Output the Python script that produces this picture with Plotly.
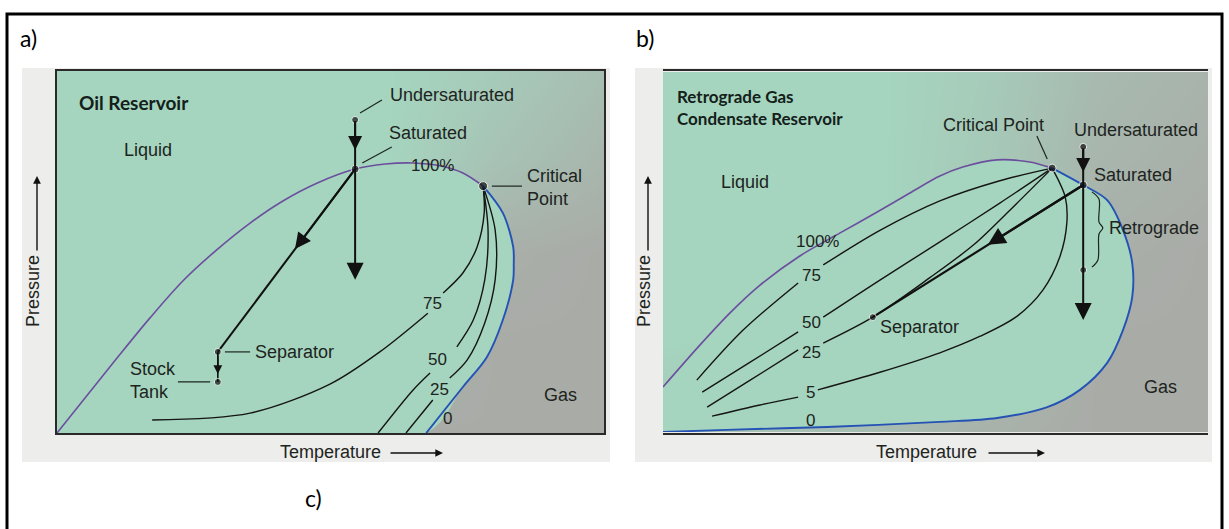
import plotly.graph_objects as go

W, H = 1229, 529

# ---------------- a) Oil reservoir ----------------
# temperature / pressure given as % of the plotted window
OIL_BUBBLE_T = [0, 10.97, 17.0, 23.0, 29.2, 35.3, 41.3, 47.5, 54.5, 60.0, 65.1, 70.0, 74.2, 77.9]
OIL_BUBBLE_P = [0, 20.7, 31.8, 42.0, 50.6, 58.0, 64.1, 69.0, 72.9, 74.3, 74.6, 73.8, 71.8, 68.2]
OIL_DEW_T = [77.9, 81.5, 83.4, 83.5, 83.4, 81.5, 78.6, 74.2, 67.5]
OIL_DEW_P = [68.2, 60.8, 51.4, 46.4, 42.3, 31.2, 21.0, 12.7, 0]
OIL_Q75_T = [77.9, 78.1, 76.8, 74.2, 70.6, None, 67.8, 59.0, 49.9, 35.3, 17.4]
OIL_Q75_P = [68.2, 60.8, 51.4, 44.2, 38.7, None, 33.1, 22.4, 13.5, 5.5, 3.6]
OIL_Q50_T = [77.9, 78.8, 78.2, 76.1, 73.1, None, 68.2, 65.1, 58.7]
OIL_Q50_P = [68.2, 56.1, 42.3, 31.2, 23.8, None, 16.6, 11.9, 0]
OIL_Q25_T = [77.9, 80.1, 80.1, 78.2, 75.0, 71.8, None, 68.7, 63.8]
OIL_Q25_P = [68.2, 56.1, 42.3, 30.4, 20.2, 15.2, None, 9.1, 0]
OIL_QUAL_LABELS = ["100%", "75", "50", "25", "0"]
OIL_QUAL_T = [68.7, 68.6, 69.5, 70.0, 71.3]
OIL_QUAL_P = [74.0, 35.9, 20.2, 11.9, 4.1]
# Undersaturated, Saturated, Critical Point, Separator, Stock Tank
OIL_POINT_T = [54.5, 54.5, 77.9, 29.4, 29.4]
OIL_POINT_P = [86.5, 72.9, 68.2, 22.4, 14.1]
OIL_DEPLETION_P_END = 42.3
OIL_HEAD_T = [54.5, 43.5, 29.4]
OIL_HEAD_P = [78.2, 50.8, 16.3]
OIL_LEADERS = [((55.4, 88.4), (59.4, 92.0)), ((55.8, 74.6), (61.2, 79.0)),
               ((79.5, 68.2), (85.0, 68.2)), ((30.7, 22.4), (35.3, 22.4)),
               ((22.1, 14.1), (28.0, 14.1))]
OIL_TEXT = [("Liquid", 16.6, 78.2, "center"), ("Undersaturated", 60.5, 93.4, "left"),
            ("Saturated", 60.3, 82.9, "left"), ("Critical<br>Point", 85.6, 67.7, "left"),
            ("Separator", 35.8, 22.4, "left"), ("Stock<br>Tank", 13.0, 14.6, "left"),
            ("Gas", 92.0, 10.5, "center")]
# background shading (0 = mint, 1 = grey) on a 20 x 25 % grid
SHADE_T = [0, 20, 40, 60, 80, 100]
SHADE_P = [0, 25, 50, 75, 100]
OIL_SHADE = [[0, 0, 0.3, 1, 1, 1],
             [0, 0, 0, 0.6, 1, 1],
             [0, 0, 0, 0.1, 0.9, 1],
             [0, 0, 0, 0, 0.45, 0.75],
             [0, 0, 0, 0, 0.25, 0.55]]

# ---------------- b) Retrograde gas condensate reservoir ----------------
GAS_BUBBLE_T = [0, 6.8, 12.3, 17.8, 25.1, 32.5, 39.3, 45.3, 50.8, 55.0, 61.3, 67.3, 71.4]
GAS_BUBBLE_P = [12.5, 24.2, 33.1, 40.8, 48.9, 55.3, 61.1, 66.4, 71.1, 73.6, 75.6, 75.0, 73.3]
GAS_DEW_T = [71.4, 77.1, 81.5, 84.4, 86.1, 86.1, 84.4, 81.5, 76.5, 70.5, 61.3, 50.8, 30.1, 11.7, 0]
GAS_DEW_P = [73.3, 68.6, 64.4, 56.1, 46.9, 37.5, 28.3, 19.2, 11.7, 6.9, 3.9, 2.8, 1.4, 0.6, 0]
GAS_Q75_T = [6.2, 14.7, 24.8, None, 29.4, 39.8, 50.8, 61.8, 71.4]
GAS_Q75_P = [14.4, 28.3, 41.4, None, 46.4, 56.0, 64.2, 69.8, 73.3]
GAS_Q50_T = [7.2, 16.0, 24.8, None, 29.4, 39.8, 50.8, 61.8, 71.4]
GAS_Q50_P = [11.1, 19.4, 27.8, None, 31.9, 42.2, 52.8, 63.6, 73.3]
GAS_Q25_T = [8.1, 16.0, 24.8, None, 29.4, 38.5, 48.9, 57.0, 63.7, 71.4]
GAS_Q25_P = [6.9, 14.4, 22.8, None, 24.7, 31.9, 42.8, 52.0, 61.7, 73.3]
GAS_Q5_T = [9.0, 17.8, 24.8, None, 28.4, 39.8, 50.8, 58.2, 65.0, 69.7, 72.8, 74.1, 73.8, 71.4]
GAS_Q5_P = [4.4, 7.5, 9.7, None, 11.7, 16.6, 22.0, 26.6, 32.2, 39.4, 48.6, 58.1, 65.3, 73.3]
GAS_QUAL_LABELS = ["100%", "75", "50", "25", "5", "0"]
GAS_QUAL_T = [28.4, 27.3, 27.3, 27.3, 27.0, 27.0]
GAS_QUAL_P = [52.8, 43.6, 30.3, 22.2, 11.1, 3.3]
# Undersaturated, Saturated, Critical Point, Separator, end of retrograde zone
GAS_POINT_T = [77.1, 77.1, 71.4, 38.5, 77.1]
GAS_POINT_P = [79.2, 68.6, 73.3, 31.9, 45.0]
GAS_DEPLETION_P_END = 31.1
GAS_HEAD_T = [77.1, 59.6]
GAS_HEAD_P = [72.2, 52.0]
GAS_BRACE_T = [78.7, 80.0, 80.0, 80.7, 80.0, 79.8, 78.7]
GAS_BRACE_P = [66.7, 64.7, 58.3, 56.7, 55.0, 47.8, 45.8]
GAS_LEADERS = [((68.6, 82.2), (70.5, 75.8))]
GAS_TEXT = [("Liquid", 15.0, 69.4, "center"), ("Critical Point", 60.6, 85.3, "center"),
            ("Undersaturated", 75.0, 83.9, "left"), ("Saturated", 78.7, 71.4, "left"),
            ("Retrograde", 81.5, 56.7, "left"), ("Separator", 39.4, 29.2, "left"),
            ("Gas", 91.2, 12.5, "center")]
GAS_SHADE = [[0.35, 0.45, 0.6, 0.85, 1, 1],
             [0, 0.05, 0.2, 0.6, 1, 1],
             [0, 0, 0, 0.35, 0.9, 1],
             [0, 0, 0, 0.3, 0.75, 0.9],
             [0, 0, 0, 0.25, 0.65, 0.8]]

GREEN = "#a5d5bf"
GRAY = "#a9aba7"
INK = "#1d2420"
PURPLE = "#6b4f9e"
BLUE = "#2552b4"
SANS = "Liberation Sans, Arial, sans-serif"

fig = go.Figure()
AX = {"a": ("x", "y"), "b": ("x2", "y2")}


def trace(panel, **kw):
    xa, ya = AX[panel]
    fig.add_trace(go.Scatter(xaxis=xa, yaxis=ya, hoverinfo="skip", showlegend=False, **kw))


def curve(panel, t, p, color, width):
    trace(panel, x=t, y=p, mode="lines",
          line=dict(color=color, width=width, shape="spline", smoothing=0.9))


def arrow(panel, tail, tip, width, size):
    xa, ya = AX[panel]
    fig.add_annotation(xref=xa, yref=ya, axref=xa, ayref=ya, x=tip[0], y=tip[1],
                       ax=tail[0], ay=tail[1], text="", showarrow=True, arrowhead=2,
                       arrowsize=size, arrowwidth=width, arrowcolor="#111", standoff=0,
                       startstandoff=0)


def text(panel, s, t, p, align, size=18, color=INK, family=SANS):
    xa, ya = AX[panel]
    fig.add_annotation(xref=xa, yref=ya, x=t, y=p, text=s, showarrow=False,
                       xanchor=align, yanchor="middle", align=align,
                       font=dict(family=family, size=size, color=color))


def background(panel, shade, bubble_t, bubble_p, dew_t, dew_p, close_t, close_p):
    xa, ya = AX[panel]
    # airbrushed backdrop: mint on the liquid side, grey towards the gas side
    fig.add_trace(go.Heatmap(x=SHADE_T, y=SHADE_P, z=shade, xaxis=xa, yaxis=ya,
                             colorscale=[[0, GREEN], [1, GRAY]], zmin=0, zmax=1,
                             zsmooth="best", showscale=False, hoverinfo="skip"))
    # two-phase envelope interior
    trace(panel, x=bubble_t + dew_t[1:] + close_t, y=bubble_p + dew_p[1:] + close_p,
          mode="lines", line=dict(width=0, shape="spline", smoothing=0.9),
          fill="toself", fillcolor=GREEN)


# ---------- panel a ----------
background("a", OIL_SHADE, OIL_BUBBLE_T, OIL_BUBBLE_P, OIL_DEW_T, OIL_DEW_P, [0], [0])
for qt, qp in [(OIL_Q75_T, OIL_Q75_P), (OIL_Q50_T, OIL_Q50_P), (OIL_Q25_T, OIL_Q25_P)]:
    curve("a", qt, qp, "#151515", 1.4)
curve("a", OIL_BUBBLE_T, OIL_BUBBLE_P, PURPLE, 1.6)
curve("a", OIL_DEW_T, OIL_DEW_P, BLUE, 1.9)

lt, lp = [], []
for (t0, p0), (t1, p1) in OIL_LEADERS:
    lt += [t0, t1, None]
    lp += [p0, p1, None]
trace("a", x=lt, y=lp, mode="lines", line=dict(color=INK, width=1.2))

# isothermal depletion and the surface process path
arrow("a", (OIL_POINT_T[0], OIL_POINT_P[0]), (OIL_POINT_T[0], OIL_DEPLETION_P_END), 2, 1.7)
arrow("a", (OIL_POINT_T[0], OIL_POINT_P[0]), (OIL_HEAD_T[0], OIL_HEAD_P[0]), 2, 1.4)
trace("a", x=[OIL_POINT_T[1], OIL_POINT_T[3]], y=[OIL_POINT_P[1], OIL_POINT_P[3]],
      mode="lines", line=dict(color="#111", width=2))
arrow("a", (OIL_POINT_T[1], OIL_POINT_P[1]), (OIL_HEAD_T[1], OIL_HEAD_P[1]), 2, 1.6)
trace("a", x=[OIL_POINT_T[3], OIL_POINT_T[4]], y=[OIL_POINT_P[3], OIL_POINT_P[4]],
      mode="lines", line=dict(color="#111", width=1.6))
arrow("a", (OIL_POINT_T[3], OIL_POINT_P[3]), (OIL_HEAD_T[2], OIL_HEAD_P[2]), 1.6, 1.1)
trace("a", x=OIL_POINT_T, y=OIL_POINT_P, mode="markers",
      marker=dict(color="#111", size=[7, 8, 9, 7, 7]))

for s, t, p in zip(OIL_QUAL_LABELS, OIL_QUAL_T, OIL_QUAL_P):
    text("a", s, t, p, "center", size=17)
for s, t, p, al in OIL_TEXT:
    text("a", s, t, p, al)
text("a", "<b>Oil Reservoir</b>", 3.7, 91.4, "left", size=19,
     color="#14201a", family="Lato, sans-serif")

# ---------- panel b ----------
background("b", GAS_SHADE, GAS_BUBBLE_T, GAS_BUBBLE_P, GAS_DEW_T, GAS_DEW_P, [], [])
for qt, qp in [(GAS_Q75_T, GAS_Q75_P), (GAS_Q50_T, GAS_Q50_P), (GAS_Q25_T, GAS_Q25_P),
               (GAS_Q5_T, GAS_Q5_P)]:
    curve("b", qt, qp, "#151515", 1.4)
curve("b", GAS_BUBBLE_T, GAS_BUBBLE_P, PURPLE, 1.6)
curve("b", GAS_DEW_T, GAS_DEW_P, BLUE, 1.9)
curve("b", GAS_BRACE_T, GAS_BRACE_P, INK, 1.2)

lt, lp = [], []
for (t0, p0), (t1, p1) in GAS_LEADERS:
    lt += [t0, t1, None]
    lp += [p0, p1, None]
trace("b", x=lt, y=lp, mode="lines", line=dict(color=INK, width=1.2))

arrow("b", (GAS_POINT_T[0], GAS_POINT_P[0]), (GAS_POINT_T[0], GAS_DEPLETION_P_END), 2, 1.7)
arrow("b", (GAS_POINT_T[0], GAS_POINT_P[0]), (GAS_HEAD_T[0], GAS_HEAD_P[0]), 2, 1.4)
trace("b", x=[GAS_POINT_T[1], GAS_POINT_T[3]], y=[GAS_POINT_P[1], GAS_POINT_P[3]],
      mode="lines", line=dict(color="#111", width=2.2))
arrow("b", (GAS_POINT_T[1], GAS_POINT_P[1]), (GAS_HEAD_T[1], GAS_HEAD_P[1]), 2.2, 1.6)
trace("b", x=GAS_POINT_T, y=GAS_POINT_P, mode="markers",
      marker=dict(color="#111", size=[7, 8, 8, 7, 7]))

for s, t, p in zip(GAS_QUAL_LABELS, GAS_QUAL_T, GAS_QUAL_P):
    text("b", s, t, p, "center", size=17)
for s, t, p, al in GAS_TEXT:
    text("b", s, t, p, al)
text("b", "<b>Retrograde Gas<br>Condensate Reservoir</b>", 2.2, 90.0, "left", size=17,
     color="#14201a", family="Lato, sans-serif")

# ---------- axes ----------
def axis(domain):
    return dict(domain=domain, range=[0, 100], showticklabels=False, ticks="",
                showgrid=False, zeroline=False, showline=True, mirror=True,
                linecolor="#2a2a2a", linewidth=1.5, fixedrange=True)


fig.update_layout(
    width=W, height=H, margin=dict(l=0, r=0, t=0, b=0),
    paper_bgcolor="white", plot_bgcolor=GREEN,
    xaxis=axis([57 / W, 604 / W]), yaxis=axis([1 - 433 / H, 1 - 71 / H]),
    xaxis2=axis([663 / W, 1208 / W]), yaxis2=axis([1 - 432 / H, 1 - 72 / H]),
)


def px(x, y):
    return x / W, 1 - y / H


shapes = []
for x0, x1 in [(22, 610), (635, 1212)]:
    a0, b0 = px(x0, 462)
    a1, b1 = px(x1, 68)
    shapes.append(dict(type="rect", xref="paper", yref="paper", x0=a0, y0=b0, x1=a1, y1=b1,
                       fillcolor="#ededeb", line=dict(width=0), layer="below"))
a0, b0 = px(7, 560)
a1, b1 = px(1222, 14)
shapes.append(dict(type="rect", xref="paper", yref="paper", x0=a0, y0=b0, x1=a1, y1=b1,
                   fillcolor="rgba(0,0,0,0)", line=dict(color="black", width=3), layer="above"))
fig.update_layout(shapes=shapes)

# axis captions with their arrows
for cx, tail, tip in [(330, 389, 443), (926, 987, 1045)]:
    x, y = px(cx, 452)
    fig.add_annotation(xref="paper", yref="paper", x=x, y=y, text="Temperature", showarrow=False,
                       xanchor="center", yanchor="middle",
                       font=dict(family=SANS, size=18, color=INK))
    x, y = px(tip, 453)
    fig.add_annotation(xref="paper", yref="paper", x=x, y=y, ax=tail - tip, ay=0, text="",
                       showarrow=True, arrowhead=2, arrowsize=1.1, arrowwidth=1.4,
                       arrowcolor="#111", standoff=0)
for cx in [33, 644]:
    x, y = px(cx, 291)
    fig.add_annotation(xref="paper", yref="paper", x=x, y=y, text="Pressure", textangle=-90,
                       xanchor="center", yanchor="middle",
                       showarrow=False, font=dict(family=SANS, size=18, color=INK))
    x, y = px(cx + 4, 176)
    fig.add_annotation(xref="paper", yref="paper", x=x, y=y, ax=0, ay=76, text="",
                       showarrow=True, arrowhead=2, arrowsize=1.1, arrowwidth=1.4,
                       arrowcolor="#111", standoff=0)

for s, cx, cy in [("a)", 28, 38), ("b)", 645, 38), ("c)", 313, 498)]:
    x, y = px(cx, cy)
    fig.add_annotation(xref="paper", yref="paper", x=x, y=y, text=s, showarrow=False,
                       xanchor="center", yanchor="middle",
                       font=dict(family="Lato, sans-serif", size=23, color="black"))

fig.write_html("out.html")
